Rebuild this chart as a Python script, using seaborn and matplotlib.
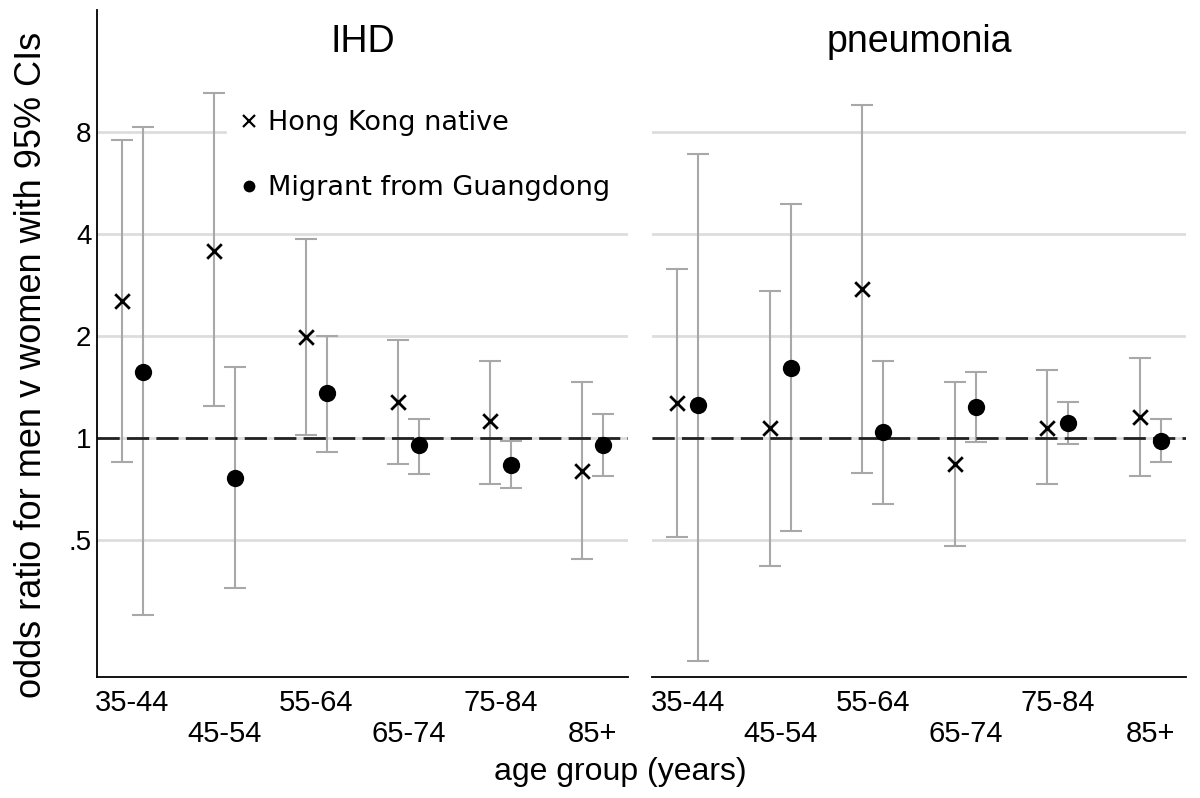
import numpy as np
import pandas as pd
import matplotlib
matplotlib.use("Agg")
import matplotlib.pyplot as plt
import seaborn as sns
from matplotlib.lines import Line2D

# ---------------- data ----------------
age_groups = ["35-44", "45-54", "55-64", "65-74", "75-84", "85+"]
causes = ["IHD", "pneumonia"]
origins = ["Hong Kong native", "Migrant from Guangdong"]

ihd_hk_or = [2.54, 3.56, 1.98, 1.28, 1.12, 0.80]
ihd_hk_lo = [0.85, 1.24, 1.02, 0.84, 0.73, 0.44]
ihd_hk_hi = [7.59, 10.4, 3.86, 1.94, 1.69, 1.46]
ihd_mig_or = [1.56, 0.76, 1.36, 0.95, 0.83, 0.95]
ihd_mig_lo = [0.30, 0.36, 0.91, 0.78, 0.71, 0.77]
ihd_mig_hi = [8.24, 1.62, 2.00, 1.14, 0.98, 1.18]

pn_hk_or = [1.27, 1.07, 2.75, 0.84, 1.07, 1.15]
pn_hk_lo = [0.51, 0.42, 0.79, 0.48, 0.73, 0.77]
pn_hk_hi = [3.14, 2.72, 9.57, 1.46, 1.59, 1.72]
pn_mig_or = [1.25, 1.61, 1.04, 1.23, 1.11, 0.98]
pn_mig_lo = [0.22, 0.53, 0.64, 0.97, 0.96, 0.85]
pn_mig_hi = [6.90, 4.90, 1.69, 1.56, 1.28, 1.14]

y_ticks = [0.5, 1, 2, 4, 8]
y_tick_labels = [".5", "1", "2", "4", "8"]

# ---------------- tidy frame ----------------
rows = []
series = {
    ("IHD", origins[0]): (ihd_hk_or, ihd_hk_lo, ihd_hk_hi),
    ("IHD", origins[1]): (ihd_mig_or, ihd_mig_lo, ihd_mig_hi),
    ("pneumonia", origins[0]): (pn_hk_or, pn_hk_lo, pn_hk_hi),
    ("pneumonia", origins[1]): (pn_mig_or, pn_mig_lo, pn_mig_hi),
}
for (cause, origin), (o, lo, hi) in series.items():
    for i, ag in enumerate(age_groups):
        rows.append(dict(cause=cause, origin=origin, age=ag, idx=i,
                         OR=o[i], lo=lo[i], hi=hi[i]))
df = pd.DataFrame(rows)
dodge = {origins[0]: -0.113, origins[1]: 0.113}
df["x"] = df["idx"] + df["origin"].map(dodge)

# ---------------- style ----------------
sns.set_theme(style="white")
plt.rcParams["font.family"] = ["Liberation Sans", "DejaVu Sans"]
for k in ["text.color", "axes.labelcolor", "xtick.color", "ytick.color"]:
    plt.rcParams[k] = "black"

fig = plt.figure(figsize=(12, 7.98), dpi=100)
W, H = 1200, 798
def ax_rect(l, r, t, b):
    return [l / W, 1 - b / H, (r - l) / W, (b - t) / H]

axL = fig.add_axes(ax_rect(97, 628, 10, 677))
axR = fig.add_axes(ax_rect(652, 1186, 10, 677), sharey=axL)

grid_c = "#dddddd"
err_c = "#a8a8a8"

for ax, cause in zip([axL, axR], causes):
    sub = df[df["cause"] == cause]
    ax.set_yscale("log", base=2)
    ax.set_ylim(0.197, 18.3)
    ax.set_xlim(-0.386, 5.386)
    ax.set_yticks(y_ticks)
    ax.minorticks_off()
    ax.grid(axis="y", color=grid_c, lw=2, zorder=0)
    ax.grid(axis="x", visible=False)
    ax.axhline(1, color="#222222", lw=2, dashes=(8, 2.6), zorder=2.5)
    for origin in origins:
        s = sub[sub["origin"] == origin]
        ax.errorbar(s["x"], s["OR"], yerr=[s["OR"] - s["lo"], s["hi"] - s["OR"]],
                    fmt="none", ecolor=err_c, elinewidth=1.5, capsize=8,
                    capthick=1.5, zorder=2)
    s = sub[sub["origin"] == origins[0]]
    sns.scatterplot(data=s, x="x", y="OR", marker="x", color="black", s=110,
                    linewidth=2, ax=ax, legend=False, zorder=4)
    s = sub[sub["origin"] == origins[1]]
    sns.scatterplot(data=s, x="x", y="OR", marker="o", color="black", s=155,
                    linewidth=0, ax=ax, legend=False, zorder=4)
    ax.set_xticks(range(len(age_groups)))
    ax.set_xticklabels(age_groups, fontsize=21)
    ax.tick_params(axis="x", length=0, pad=8.5)
    for t in ax.xaxis.get_major_ticks()[1::2]:
        t.set_pad(31)
    ax.set_xlabel("")
    ax.set_ylabel("")
    ax.text(0.5, 0.937, cause, transform=ax.transAxes, ha="center",
            va="baseline", fontsize=27)
    for sp in ["top", "right"]:
        ax.spines[sp].set_visible(False)
    ax.spines["bottom"].set_color("black")
    ax.spines["bottom"].set_linewidth(1.3)

axL.spines["left"].set_color("black")
axL.spines["left"].set_linewidth(1.3)
axL.set_yticklabels(y_tick_labels, fontsize=20)
axL.tick_params(axis="y", length=0, pad=4)
axR.spines["left"].set_visible(False)
axR.tick_params(axis="y", length=0, labelleft=False)

handles = [
    Line2D([], [], marker="x", ls="none", color="black", ms=8, mew=1.6),
    Line2D([], [], marker="o", ls="none", color="black", ms=8.5, mew=0),
]
leg = axL.legend(handles, origins, loc="upper left",
                 bbox_to_anchor=(0.245, 0.0, 0.755, 0.866), mode="expand",
                 borderaxespad=0, frameon=True, facecolor="white", edgecolor="white",
                 framealpha=1, fancybox=False, handlelength=0.8, handletextpad=0.3,
                 labelspacing=1.45, borderpad=0.4,
                 prop={"family": "DejaVu Sans", "size": 19.5})
for t in leg.get_texts():
    t.set_color("black")
leg.set_zorder(5)

fig.text(32 / W, 1 - 365 / H, "odds ratio for men v women with 95% CIs",
         rotation=90, ha="center", va="center", fontsize=26)
fig.text(620 / W, 1 - 780 / H, "age group (years)", ha="center", va="baseline",
         fontsize=23)

fig.savefig("out.png", dpi=100, facecolor="white")
